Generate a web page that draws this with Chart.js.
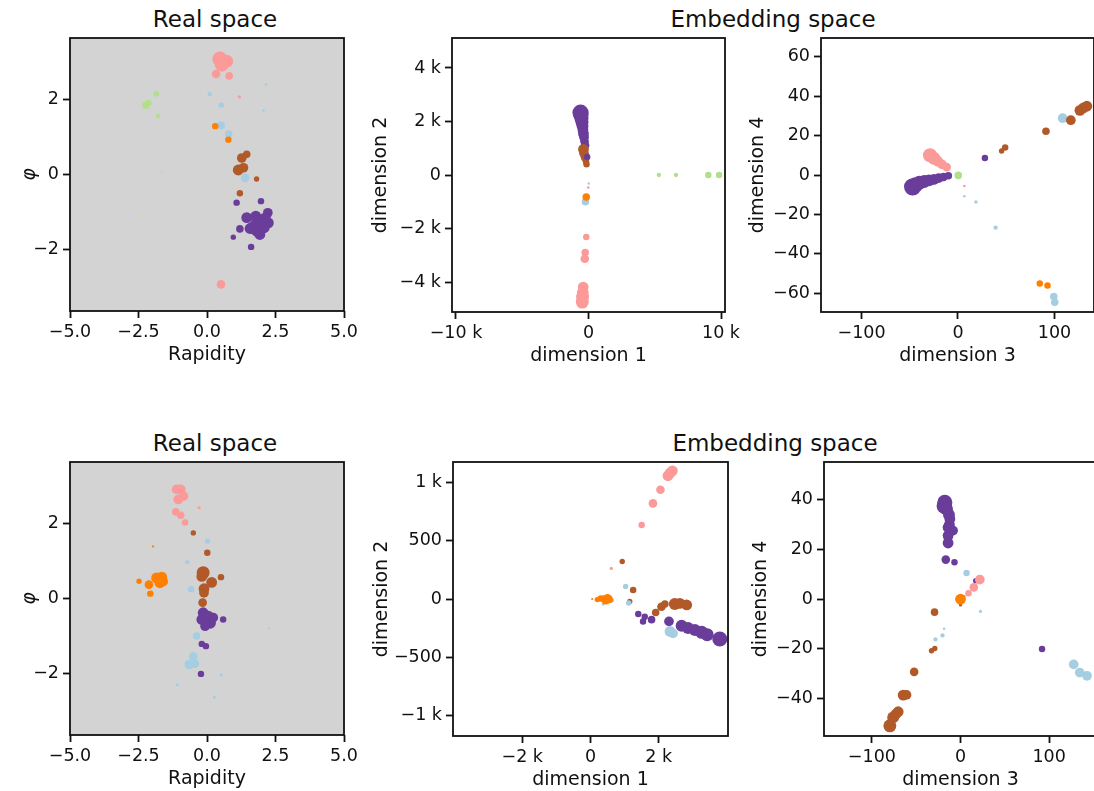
<!DOCTYPE html>
<html>
<head>
<meta charset="utf-8">
<script src="https://cdn.jsdelivr.net/npm/chart.js@4.4.0/dist/chart.umd.min.js"></script>
<style>
  body { margin: 0; width: 1094px; height: 791px; overflow: hidden; background: #fff; position: relative;
         font-family: "DejaVu Sans", sans-serif; color: #111; }
  canvas { position: absolute; }
  .title { position: absolute; font-size: 23px; transform: translate(-50%, -50%); white-space: nowrap; }
</style>
</head>
<body>
<div class="title" style="left:215px;top:19px">Real space</div>
<div class="title" style="left:773px;top:19px">Embedding space</div>
<div class="title" style="left:215px;top:443px">Real space</div>
<div class="title" style="left:775px;top:443px">Embedding space</div>

<script>
// clusters (Paired colormap)
const clusterColors = ["#a6cee3", "#ff7f00", "#b15928", "#6a3d9a", "#fb9a99", "#b2df8a"];
// 0 light blue, 1 orange, 2 brown, 3 purple, 4 pink, 5 green

// tick values
const realXTicks = [-5, -2.5, 0, 2.5, 5];
const realYTicks = [-2, 0, 2];
const topD1Ticks = [-10000, 0, 10000];
const topD2Ticks = [-4000, -2000, 0, 2000, 4000];
const topD3Ticks = [-100, 0, 100];
const topD4Ticks = [-60, -40, -20, 0, 20, 40, 60];
const botD1Ticks = [-2000, 0, 2000];
const botD2Ticks = [-1000, -500, 0, 500, 1000];
const botD3Ticks = [-100, 0, 100];
const botD4Ticks = [-40, -20, 0, 20, 40];

// points: [x, y, energy, cluster]
const realTop = [
  [-1.85, 2.15, 2.5, 5], [-2.23, 1.85, 3.5, 5], [-2.14, 1.91, 3, 5], [-1.79, 1.56, 2, 5], [-1.64, 0.07, 0.8, 5], [-2.35, -1.11, 0.6, 5],
  [0.47, 3.08, 7, 4], [0.72, 3.02, 6, 4], [0.54, 2.93, 6.5, 4], [0.33, 2.68, 4, 4], [0.81, 2.63, 3.5, 4], [1.18, 2.07, 1.5, 4], [0.51, -2.93, 4, 4],
  [1.45, 0.54, 3.5, 2], [1.27, 0.44, 4.5, 2], [1.33, 0.18, 4.5, 2], [1.14, 0.12, 5, 2], [1.81, -0.12, 2.5, 2], [1.2, -0.5, 3, 2],
  [2.15, 2.4, 1.2, 0], [0.1, 2.14, 2, 0], [0.52, 1.85, 2.5, 0], [2.06, 1.71, 1.2, 0], [0.52, 1.31, 3.5, 0], [0.79, 1.08, 3.5, 0], [1.39, -0.09, 4, 0],
  [0.3, 1.29, 3, 1], [0.78, 0.93, 3, 1],
  [1.08, -0.75, 3, 3], [1.97, -0.71, 3, 3], [1.45, -1.15, 5, 3], [1.78, -1.11, 5, 3], [2.22, -1.02, 4.5, 3], [2.0, -1.29, 7, 3],
  [2.24, -1.29, 5, 3], [1.87, -1.47, 7, 3], [1.69, -1.42, 6, 3], [1.57, -1.44, 5, 3], [1.93, -1.6, 5, 3], [1.2, -1.45, 3.5, 3],
  [0.96, -1.67, 2.5, 3], [1.61, -1.93, 3, 3], [2.09, -1.42, 5, 3], [1.85, -1.25, 6, 3], [2.1, -1.2, 6, 3]
];

const embTop12 = [
  [-600, 2330, 7.5, 3], [-570, 2240, 7, 3], [-530, 2110, 6.5, 3], [-490, 1970, 6, 3], [-450, 1830, 5.5, 3], [-420, 1690, 5, 3],
  [-380, 1550, 5, 3], [-340, 1410, 4.5, 3], [-300, 1260, 4, 3], [-260, 1110, 4, 3],
  [-380, 960, 5, 2], [-340, 810, 4.5, 2], [-260, 660, 4, 2], [-190, 510, 3, 2], [-150, 400, 3, 2],
  [-100, 670, 3, 3],
  [20, -320, 1.2, 0], [-20, -470, 1.2, 4],
  [-230, -1000, 3.5, 0], [-170, -820, 3.5, 1],
  [-170, -2320, 3, 4], [-250, -2900, 3.5, 4], [-280, -3130, 4, 4], [-400, -4190, 5, 4], [-430, -4400, 5.5, 4], [-450, -4560, 6, 4], [-470, -4750, 6, 4],
  [5310, 0, 2, 5], [6600, 0, 2, 5], [9040, 0, 3, 5], [9850, 0, 3, 5]
];

const embTop34 = [
  [-47, -6, 8, 3], [-44, -5, 7, 3], [-40, -4, 6.5, 3], [-35, -3.3, 6, 3], [-30, -2.7, 5.5, 3], [-25, -2.2, 5, 3],
  [-20, -1.6, 4.5, 3], [-15, -1.0, 4, 3], [-10, -0.4, 3.5, 3], [27.9, 8.6, 3, 3],
  [-29, 10, 6.5, 4], [-25, 8.5, 6, 4], [-21, 7, 5, 4], [-16.6, 5.4, 4.5, 4], [-11.7, 4, 4, 4], [6.6, -5.6, 1.2, 4],
  [0.3, -0.2, 3.5, 5],
  [6.6, -10.8, 1.2, 0], [18.6, -13.7, 1.6, 0], [39, -26.7, 2, 0], [108.5, 28.8, 4.5, 0], [99.3, -61.6, 3.5, 0], [100.3, -64.6, 3.5, 0],
  [45.2, 12.2, 2.5, 2], [48.9, 13.9, 3, 2], [91.2, 22.2, 3.5, 2], [117, 27.8, 4.5, 2], [126.4, 32.8, 5, 2], [130, 34, 5, 2], [133.6, 34.9, 5, 2],
  [84.8, -55.1, 3, 1], [92.8, -56, 3, 1]
];

const realBot = [
  [-1.11, 2.91, 4.5, 4], [-0.96, 2.91, 4.5, 4], [-0.86, 2.73, 4.5, 4], [-1.05, 2.64, 4.5, 4], [-1.14, 2.31, 3.5, 4], [-0.96, 2.22, 3.5, 4],
  [-0.8, 2.03, 3, 4], [-0.29, 2.42, 1.5, 4],
  [-0.5, 1.75, 2.5, 2], [0.01, 1.22, 3, 2], [-0.14, 0.69, 6, 2], [-0.19, 0.59, 5, 2], [0.17, 0.43, 5, 2], [0.51, 0.57, 3, 2],
  [-0.11, 0.26, 5, 2], [-0.11, 0.15, 4.5, 2], [-0.16, -0.11, 4, 2],
  [0.02, 1.53, 2.5, 0], [-0.72, 0.97, 2, 0], [-0.58, 0.25, 3, 0], [-0.38, -1.0, 3.5, 0], [-0.5, -1.54, 4, 0], [-0.65, -1.76, 4.5, 0],
  [-0.44, -1.74, 4, 0], [0.52, -2.04, 1.5, 0], [-1.08, -2.3, 1.5, 0], [0.27, -2.63, 1.5, 0], [2.26, -0.8, 1, 0],
  [-1.97, 1.39, 1, 1], [-1.84, 0.55, 5, 1], [-1.65, 0.57, 5, 1], [-1.72, 0.42, 5, 1], [-1.6, 0.45, 4.5, 1], [-2.12, 0.37, 4, 1],
  [-2.48, 0.46, 2.5, 1], [-2.07, 0.13, 3, 1],
  [-0.14, -0.38, 5, 3], [-0.19, -0.56, 5, 3], [0.05, -0.47, 5, 3], [0.11, -0.65, 5.5, 3], [0.23, -0.51, 4.5, 3], [-0.07, -0.74, 4.5, 3],
  [0.59, -0.56, 3, 3], [-0.19, -1.21, 3, 3], [-0.04, -1.27, 3, 3], [-0.22, -2.01, 3, 3]
];

const embBot12 = [
  [2400, 1099, 5, 4], [2270, 1057, 5, 4], [2330, 1080, 5, 4], [2050, 937, 4, 4], [1830, 820, 4, 4], [1500, 634, 3, 4], [610, 262, 1.5, 4],
  [930, 322, 2.5, 2], [1250, 77, 3, 2], [1150, -21, 2.5, 2], [1910, -115, 3.5, 2], [2080, -66, 4, 2], [2180, -43, 3.5, 2],
  [2470, -43, 5.5, 2], [2620, -38, 5, 2], [2820, -51, 5, 2],
  [1030, 108, 2.5, 0], [1120, -34, 2.5, 0], [630, -12, 2, 0], [370, -43, 1.5, 0],
  [50, 0, 1, 1], [200, -5, 2.5, 1], [300, 5, 3, 1], [400, 0, 3.5, 1], [450, -10, 4, 1], [500, 5, 4, 1], [550, -5, 3.5, 1],
  [1400, -129, 3, 3], [1590, -152, 3, 3], [1540, -192, 3, 3], [1790, -177, 3.5, 3], [2300, -192, 4.5, 3],
  [2330, -278, 5, 0], [2420, -295, 4.5, 0],
  [2670, -229, 5.5, 3], [2860, -249, 5.5, 3], [3060, -266, 5.5, 3], [3260, -286, 6, 3], [3420, -306, 6, 3], [3790, -343, 7, 3]
];

const embBot34 = [
  [-17.7, 39, 7, 3], [-18.5, 37.5, 7, 3], [-15.8, 36.4, 6, 3], [-13, 34, 5.5, 3], [-12, 32.3, 5, 3], [-12.5, 30, 5, 3], [-14, 28.9, 5, 3],
  [-8.3, 27.6, 4.5, 3], [-14, 25.6, 5, 3], [-14, 22.6, 5, 3], [-16.6, 15.9, 4, 3], [-6.8, 14.8, 3, 3], [92, -20.2, 3, 3],
  [6.8, 10.5, 3, 0], [22.5, -5, 1.5, 0], [-18.5, -12, 1.2, 0], [-20.3, -14.7, 2, 0], [-28.2, -16.3, 2, 0],
  [127.7, -26.4, 4.5, 0], [134.5, -29.7, 4.5, 0], [142.7, -31, 4.5, 0],
  [17.2, 7.4, 2.5, 3],
  [21.8, 7.8, 4.5, 4], [15, 4.7, 4, 4], [9, 2.3, 3, 4], [4.1, 1.1, 1.5, 4],
  [0, -2.4, 1.5, 2], [0, -0.1, 5, 1],
  [-29.3, -5.3, 3.5, 2], [-32.7, -20.9, 2.5, 2], [-29, -20, 2.5, 2], [-52.3, -29.4, 4, 2], [-64.7, -38.8, 5, 2], [-60.9, -38.7, 4.5, 2],
  [-70.3, -45.5, 5, 2], [-73, -46.5, 5, 2], [-76, -47.8, 5.5, 2], [-79.7, -51.2, 6, 2]
];

const FONT = "DejaVu Sans";
const INK = "#111";

const minus = s => String(s).replace("-", "\u2212");
const fmtFixed1 = v => minus(v.toFixed(1));
const fmtInt = v => minus(v);
const fmtK = v => minus(Math.abs(v) >= 1000 ? (v / 1000) + " k" : v);

const panels = [
  { pts: realTop, L: 70, T: 38, W: 274, H: 273, xr: [-5, 5], yr: [-3.64, 3.64], xt: realXTicks, yt: realYTicks,
    xf: fmtFixed1, yf: fmtInt, xl: "Rapidity", yl: "\u03c6", yGap: 40, bg: "#d3d3d3" },
  { pts: embTop12, L: 452, T: 38, W: 273, H: 274, xr: [-10300, 10300], yr: [-5120, 5120], xt: topD1Ticks, yt: topD2Ticks,
    xf: fmtK, yf: fmtK, xl: "dimension 1", yl: "dimension 2", yGap: 71 },
  { pts: embTop34, L: 821, T: 38, W: 273, H: 274, xr: [-142, 141], yr: [-69.5, 69.5], xt: topD3Ticks, yt: topD4Ticks,
    xf: fmtInt, yf: fmtInt, xl: "dimension 3", yl: "dimension 4", yGap: 63 },
  { pts: realBot, L: 70, T: 462, W: 274, H: 273, xr: [-5, 5], yr: [-3.64, 3.64], xt: realXTicks, yt: realYTicks,
    xf: fmtFixed1, yf: fmtInt, xl: "Rapidity", yl: "\u03c6", yGap: 40, bg: "#d3d3d3" },
  { pts: embBot12, L: 453, T: 462, W: 275, H: 274, xr: [-4030, 4030], yr: [-1175, 1175], xt: botD1Ticks, yt: botD2Ticks,
    xf: fmtK, yf: fmtK, xl: "dimension 1", yl: "dimension 2", yGap: 71 },
  { pts: embBot34, L: 824, T: 462, W: 273, H: 274, xr: [-154, 154], yr: [-55.3, 55.3], xt: botD3Ticks, yt: botD4Ticks,
    xf: fmtInt, yf: fmtInt, xl: "dimension 3", yl: "dimension 4", yGap: 63 }
];

const YBOX = 100, XBOX = 60, PADT = 20, PADR = 40;
const LABEL_SIZE = 19, TICK_SIZE = 17.5;
const halfLine = LABEL_SIZE * 1.2 / 2;

const framePlugin = {
  id: "frame",
  beforeDatasetsDraw(chart, args, opts) {
    if (!opts.bg) return;
    const a = chart.chartArea, ctx = chart.ctx;
    ctx.save();
    ctx.fillStyle = opts.bg;
    ctx.fillRect(a.left, a.top, a.right - a.left, a.bottom - a.top);
    ctx.restore();
  },
  afterDraw(chart) {
    const a = chart.chartArea, ctx = chart.ctx;
    ctx.save();
    ctx.strokeStyle = INK;
    ctx.lineWidth = 1.8;
    ctx.strokeRect(a.left, a.top, a.right - a.left, a.bottom - a.top);
    ctx.restore();
  }
};

function axis(range, ticks, fmt, label, titlePad, fixSize, italic) {
  return {
    type: "linear",
    min: range[0], max: range[1],
    afterBuildTicks: s => { s.ticks = ticks.map(v => ({ value: v })); },
    afterFit: fixSize,
    grid: { display: true, drawOnChartArea: false, drawTicks: true, tickLength: 7, tickColor: INK, tickWidth: 1.8 },
    border: { display: false },
    ticks: { color: INK, padding: 4, autoSkip: false, maxRotation: 0, font: { family: FONT, size: TICK_SIZE },
             callback: v => fmt(v) },
    title: { display: true, text: label, color: INK, padding: titlePad,
             font: { family: FONT, size: LABEL_SIZE, style: italic ? "italic" : "normal" } }
  };
}

panels.forEach(p => {
  const cv = document.createElement("canvas");
  const cw = YBOX + p.W + PADR, ch = PADT + p.H + XBOX;
  cv.width = cw; cv.height = ch;
  cv.style.left = (p.L - YBOX) + "px";
  cv.style.top = (p.T - PADT) + "px";
  cv.style.width = cw + "px"; cv.style.height = ch + "px";
  document.body.appendChild(cv);

  new Chart(cv.getContext("2d"), {
    type: "scatter",
    data: {
      datasets: [{
        data: p.pts.map(d => ({ x: d[0], y: d[1], e: d[2], c: d[3] })),
        pointRadius: ctx => ctx.raw ? ctx.raw.e * 1.08 : 0,
        pointBackgroundColor: ctx => ctx.raw ? clusterColors[ctx.raw.c] : "#000",
        pointBorderWidth: 0,
        pointBorderColor: "rgba(0,0,0,0)"
      }]
    },
    options: {
      responsive: false,
      animation: false,
      events: [],
      layout: { padding: { left: 0, top: PADT, right: PADR, bottom: 0 } },
      plugins: { legend: { display: false }, tooltip: { enabled: false }, frame: { bg: p.bg } },
      scales: {
        x: axis(p.xr, p.xt, p.xf, p.xl, { top: 0, bottom: XBOX - 44 - halfLine }, s => { s.height = XBOX; }, false),
        y: axis(p.yr, p.yt, p.yf, p.yl, { top: YBOX - p.yGap - halfLine, bottom: 0 }, s => { s.width = YBOX; }, p.yl === "\u03c6")
      }
    },
    plugins: [framePlugin]
  });
});
</script>
</body>
</html>
